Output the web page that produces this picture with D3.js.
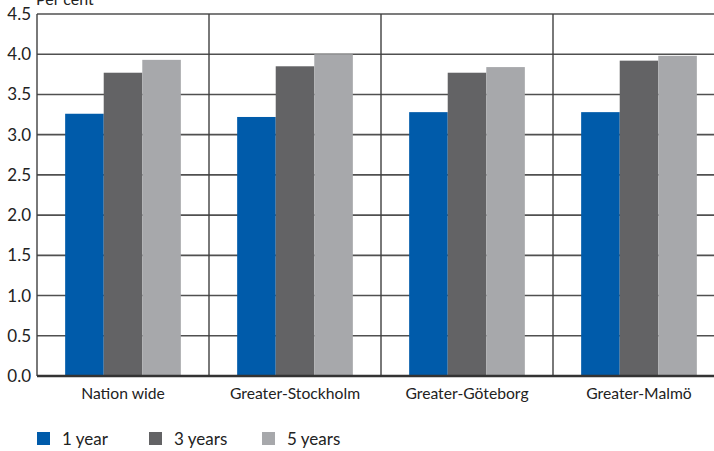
<!DOCTYPE html>
<html>
<head>
<meta charset="utf-8">
<script src="https://cdn.jsdelivr.net/npm/d3@7"></script>
<style>
  body { margin: 0; background: #fff; }
  text { font-family: Lato, "Open Sans", sans-serif; fill: #222; }
</style>
</head>
<body>
<script>
// data
var regions = ['Nation wide', 'Greater-Stockholm', 'Greater-Göteborg', 'Greater-Malmö'];
var seriesNames = ['1 year', '3 years', '5 years'];
var oneYear = [3.26, 3.22, 3.28, 3.28];
var threeYears = [3.77, 3.85, 3.77, 3.92];
var fiveYears = [3.93, 4.00, 3.84, 3.98];
var yTicks = [0, 0.5, 1, 1.5, 2, 2.5, 3, 3.5, 4, 4.5];
var colors = ['#005baa', '#636365', '#a7a8ab'];

var chart = {
  width: 714,
  height: 451,
  left: 37,
  right: 725,
  top: 14,
  bottom: 376
};

var svg = d3.select('body').append('svg').attr('width', chart.width).attr('height', chart.height);

var x = d3.scaleBand().domain(regions).range([chart.left, chart.right]);
var xInner = d3.scaleBand().domain(seriesNames).range([0, x.bandwidth()]).paddingOuter(0.73).paddingInner(0);
var y = d3.scaleLinear().domain([0, 4.5]).range([chart.bottom, chart.top]);

var rows = regions.map(function(r, i) {
  return { region: r, values: [oneYear[i], threeYears[i], fiveYears[i]] };
});

// horizontal grid
svg.append('g').selectAll('line').data(yTicks.filter(function(t) { return t > 0; }))
  .enter().append('line')
  .attr('x1', chart.left).attr('x2', chart.width)
  .attr('y1', function(d) { return y(d); }).attr('y2', function(d) { return y(d); })
  .attr('stroke', '#505050').attr('stroke-width', 1.6);

// vertical separators
svg.append('g').selectAll('line').data(regions)
  .enter().append('line')
  .attr('x1', function(d) { return x(d); }).attr('x2', function(d) { return x(d); })
  .attr('y1', chart.top).attr('y2', chart.bottom)
  .attr('stroke', '#404040').attr('stroke-width', 1.4);

// bars
var groups = svg.append('g').selectAll('g').data(rows).enter().append('g')
  .attr('transform', function(d) { return 'translate(' + x(d.region) + ',0)'; });
groups.selectAll('rect').data(function(d) { return d.values; })
  .enter().append('rect')
  .attr('x', function(d, i) { return xInner(seriesNames[i]); })
  .attr('width', xInner.bandwidth())
  .attr('y', function(d) { return y(d); })
  .attr('height', function(d) { return y(0) - y(d); })
  .attr('fill', function(d, i) { return colors[i]; });

// zero axis
svg.append('line')
  .attr('x1', chart.left).attr('x2', chart.width)
  .attr('y1', y(0)).attr('y2', y(0))
  .attr('stroke', '#333').attr('stroke-width', 2.4);

// y labels
var yAxis = svg.append('g').attr('transform', 'translate(' + (chart.left - 6) + ',0)')
  .call(d3.axisLeft(y).tickValues(yTicks).tickFormat(d3.format('.1f')).tickSize(0).tickPadding(0));
yAxis.select('.domain').remove();
yAxis.selectAll('text').style('font-size', '17px').style('font-family', 'Lato, sans-serif').attr('fill', '#222');

svg.append('text').attr('x', 36).attr('y', 5).style('font-size', '16px').text('Per cent');

// x labels
svg.append('g').selectAll('text').data(regions).enter().append('text')
  .attr('x', function(d) { return x(d) + x.bandwidth() / 2; })
  .attr('y', 399)
  .attr('text-anchor', 'middle')
  .style('font-size', '15.7px')
  .text(function(d) { return d; });

// legend
var legendX = [37, 149, 262];
var legend = svg.append('g').selectAll('g').data(seriesNames).enter().append('g')
  .attr('transform', function(d, i) { return 'translate(' + legendX[i] + ',432)'; });
legend.append('rect').attr('width', 13).attr('height', 13)
  .attr('fill', function(d, i) { return colors[i]; });
legend.append('text').attr('x', 25).attr('y', 13).style('font-size', '17px')
  .text(function(d) { return d; });
</script>
</body>
</html>
